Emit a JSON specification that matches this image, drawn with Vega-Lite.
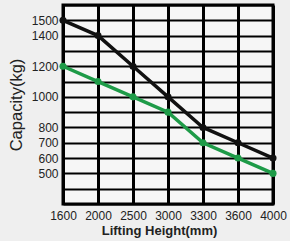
{
  "$schema": "https://vega.github.io/schema/vega-lite/v6.json",
  "width": 210,
  "height": 199,
  "autosize": "none",
  "padding": {"left": 63, "top": 5, "right": 17, "bottom": 37},
  "background": "#efefef",
  "config": {
    "font": "Liberation Sans",
    "view": {"stroke": "#000000", "strokeWidth": 3, "fill": "#f6f6f6"}
  },
  "data": {
    "values": [
      {"height": "1600", "series": "A", "capacity": 1500},
      {"height": "2000", "series": "A", "capacity": 1400},
      {"height": "2500", "series": "A", "capacity": 1200},
      {"height": "3000", "series": "A", "capacity": 1000},
      {"height": "3300", "series": "A", "capacity": 800},
      {"height": "3600", "series": "A", "capacity": 700},
      {"height": "4000", "series": "A", "capacity": 600},
      {"height": "1600", "series": "B", "capacity": 1200},
      {"height": "2000", "series": "B", "capacity": 1100},
      {"height": "2500", "series": "B", "capacity": 1000},
      {"height": "3000", "series": "B", "capacity": 900},
      {"height": "3300", "series": "B", "capacity": 700},
      {"height": "3600", "series": "B", "capacity": 600},
      {"height": "4000", "series": "B", "capacity": 500}
    ]
  },
  "mark": {"type": "line", "strokeWidth": 3.5, "point": {"filled": true, "size": 50, "opacity": 1}},
  "encoding": {
    "x": {
      "field": "height",
      "type": "ordinal",
      "sort": null,
      "scale": {"type": "point", "padding": 0},
      "axis": {
        "labelAngle": 0,
        "ticks": false,
        "domain": false,
        "grid": true,
        "gridColor": "#000000",
        "gridWidth": 3,
        "gridOpacity": 1,
        "labelFontSize": 12,
        "labelColor": "#222222",
        "labelPadding": 6,
        "title": "Lifting Height(mm)",
        "titleFontSize": 13,
        "titleFontWeight": "bold",
        "titleColor": "#222222",
        "titlePadding": 3,
        "titleX": 96
      }
    },
    "y": {
      "field": "capacity",
      "type": "quantitative",
      "scale": {"domain": [300, 1600], "nice": false, "zero": false},
      "axis": {
        "values": [300, 400, 500, 600, 700, 800, 900, 1000, 1100, 1200, 1300, 1400, 1500, 1600],
        "labelExpr": "indexof([500,600,700,800,1000,1200,1400,1500], datum.value) >= 0 ? datum.label : ''",
        "format": "d",
        "labelOverlap": false,
        "ticks": false,
        "domain": false,
        "grid": true,
        "gridColor": "#000000",
        "gridWidth": 1.8,
        "gridOpacity": 1,
        "labelFontSize": 12,
        "labelColor": "#222222",
        "labelPadding": 5,
        "title": "Capacity(kg)",
        "titleFontSize": 16.5,
        "titleFontWeight": "normal",
        "titleColor": "#222222",
        "titlePadding": 7
      }
    },
    "color": {
      "field": "series",
      "type": "nominal",
      "scale": {"domain": ["A", "B"], "range": ["#111111", "#1e9b48"]},
      "legend": null
    }
  }
}
